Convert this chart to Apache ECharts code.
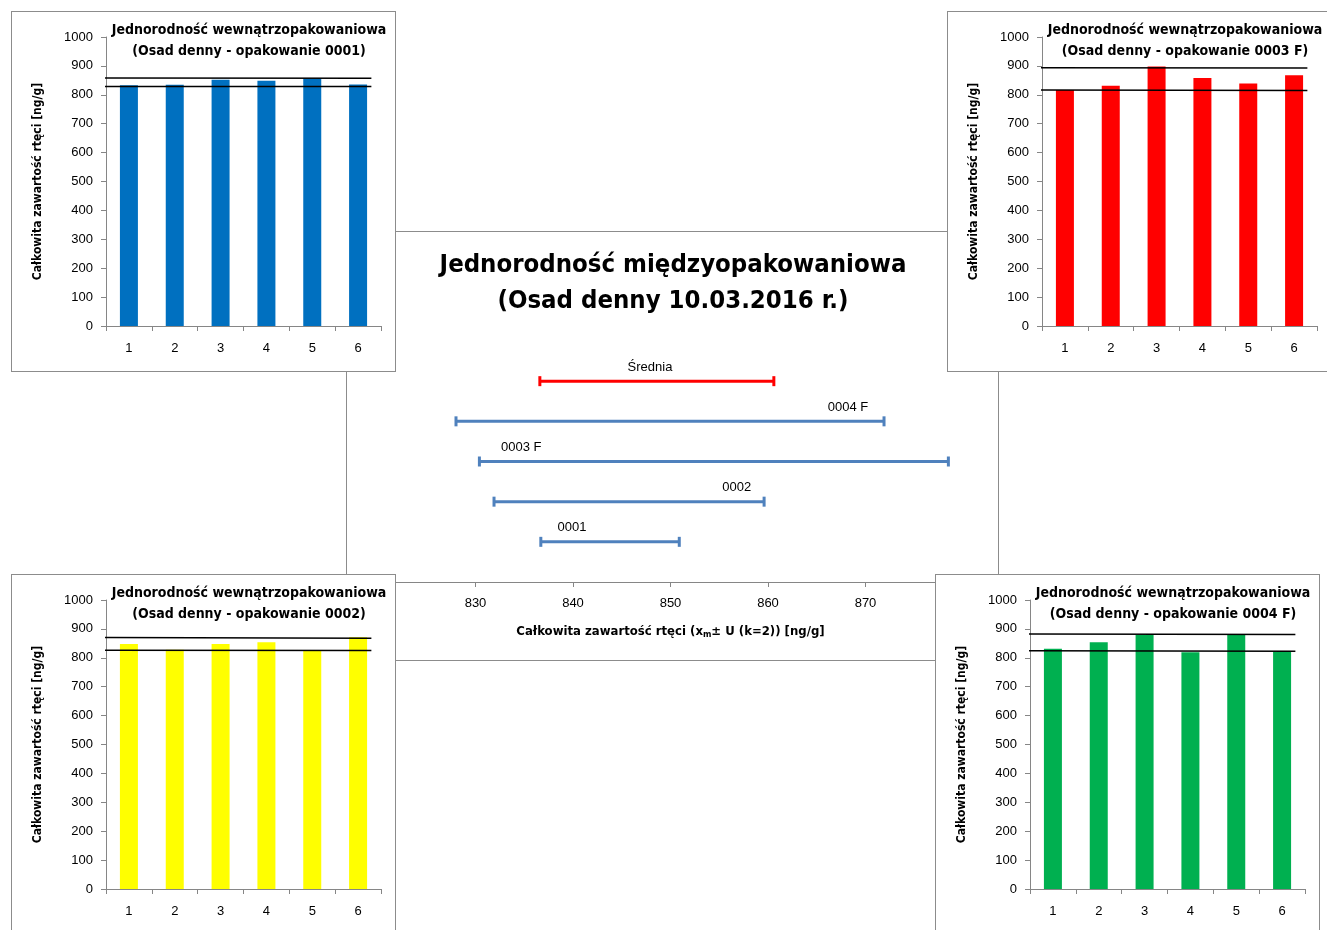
<!DOCTYPE html>
<html>
<head>
<meta charset="utf-8">
<script src="https://cdn.jsdelivr.net/npm/echarts@6/dist/echarts.min.js"></script>
<style>
html,body{margin:0;padding:0;background:#fff;width:1327px;height:930px;overflow:hidden;position:relative;}
.box{position:absolute;background:#fff;border:1px solid #8c8c8c;box-sizing:border-box;}
</style>
</head>
<body>
<div id="center" class="box" style="left:346px;top:231px;width:653px;height:430px;"></div>
<div id="c1" class="box" style="left:11px;top:11px;width:385px;height:361px;"></div>
<div id="c3" class="box" style="left:947px;top:11px;width:385px;height:361px;"></div>
<div id="c2" class="box" style="left:11px;top:574px;width:385px;height:361px;"></div>
<div id="c4" class="box" style="left:935px;top:574px;width:385px;height:361px;"></div>
<script>
// ---- data ----
const samples = ['1', '2', '3', '4', '5', '6'];
const vals0001 = [833, 835, 852, 849, 856, 836];
const vals0002 = [848, 828, 848, 854, 825, 871];
const vals0003F = [817, 831, 898, 858, 839, 868];
const vals0004F = [831, 854, 879, 819, 879, 822];
// limit lines [start, end] for each package
const upper0001 = [858, 857];
const lower0001 = [829, 829];
const upper0002 = [870, 868];
const lower0002 = [826, 825];
const upper0003F = [894, 893];
const lower0003F = [817, 815];
const upper0004F = [882, 881];
const lower0004F = [824, 823];

const intervalNames = ['0001', '0002', '0003 F', '0004 F', 'Średnia'];
const intervalLow = [836.7, 831.9, 830.4, 828.0, 836.6];
const intervalHigh = [850.9, 859.6, 878.5, 871.9, 860.6];
const intervalLabelAt = [839.9, 856.8, 834.7, 868.2, 847.9];

const TXT = 'Liberation Sans, Arial, sans-serif';
const BOLDF = 'DejaVu Sans Condensed, Liberation Sans Narrow, sans-serif';

function small(id, pkg, values, upper, lower, color) {
  const ch = echarts.init(document.getElementById(id), null, {renderer: 'canvas'});
  ch.setOption({
    animation: false,
    graphic: [
      {type: 'text', x: 237, y: 11, style: {text: 'Jednorodność wewnątrzopakowaniowa', align: 'center', fill: '#000',
        font: 'bold 14px ' + BOLDF}},
      {type: 'text', x: 237, y: 32, style: {text: '(Osad denny - opakowanie ' + pkg + ')', align: 'center', fill: '#000',
        font: 'bold 14px ' + BOLDF}}
    ],
    grid: {left: 94, right: 14, top: 25, bottom: 45},
    xAxis: [{
      type: 'category', data: samples,
      axisLine: {lineStyle: {color: '#868686'}},
      axisTick: {show: true, length: 5, lineStyle: {color: '#868686'}},
      axisLabel: {color: '#000', fontSize: 13, fontFamily: TXT, margin: 16}
    }, {
      type: 'value', min: 0, max: 1, show: false
    }],
    yAxis: {
      type: 'value', min: 0, max: 1000, interval: 100,
      name: 'Całkowita zawartość rtęci [ng/g]', nameLocation: 'middle', nameGap: 62, nameRotate: 90,
      nameTextStyle: {color: '#000', fontWeight: 'bold', fontSize: 12, fontFamily: BOLDF},
      axisLine: {show: true, lineStyle: {color: '#868686'}},
      axisTick: {show: true, length: 5, lineStyle: {color: '#868686'}},
      axisLabel: {color: '#000', fontSize: 13, fontFamily: TXT, margin: 13, formatter: function (v) { return String(v); }},
      splitLine: {show: false}
    },
    series: [{
      type: 'bar', data: values, barWidth: 18, xAxisIndex: 0,
      itemStyle: {color: color}
    }, {
      type: 'line', xAxisIndex: 1, data: [[-0.01, upper[0]], [0.965, upper[1]]],
      symbol: 'none', lineStyle: {color: '#000', width: 1.5}, z: 5
    }, {
      type: 'line', xAxisIndex: 1, data: [[-0.01, lower[0]], [0.965, lower[1]]],
      symbol: 'none', lineStyle: {color: '#000', width: 1.5}, z: 5
    }]
  });
}

small('c1', '0001', vals0001, upper0001, lower0001, '#0070C0');
small('c2', '0002', vals0002, upper0002, lower0002, '#FFFF00');
small('c3', '0003 F', vals0003F, upper0003F, lower0003F, '#FF0000');
small('c4', '0004 F', vals0004F, upper0004F, lower0004F, '#00B050');

// ---- center chart ----
const cc = echarts.init(document.getElementById('center'));
const idata = intervalNames.map((n, i) => [intervalLow[i], intervalHigh[i], i + 1, intervalLabelAt[i], n]);
cc.setOption({
  animation: false,
  graphic: [
    {type: 'text', x: 326, y: 20, style: {text: 'Jednorodność międzyopakowaniowa', align: 'center', fill: '#000',
      font: 'bold 25.5px ' + BOLDF}},
    {type: 'text', x: 326, y: 56, style: {text: '(Osad denny 10.03.2016 r.)', align: 'center', fill: '#000',
      font: 'bold 25.5px ' + BOLDF}}
  ],
  grid: {left: 31, right: 35, top: 109, bottom: 78},
  xAxis: {
    type: 'value', min: 820, max: 880, interval: 10,
    axisLine: {show: true, lineStyle: {color: '#868686'}},
    axisTick: {show: true, length: 5, lineStyle: {color: '#868686'}},
    axisLabel: {color: '#000', fontSize: 13, fontFamily: TXT, margin: 15},
    splitLine: {show: false},
    name: 'Całkowita zawartość rtęci (x{sub|m}± U (k=2)) [ng/g]',
    nameLocation: 'middle', nameGap: 42,
    nameTextStyle: {color: '#000', fontWeight: 'bold', fontSize: 13, fontFamily: BOLDF,
      rich: {sub: {fontSize: 9, fontWeight: 'bold', verticalAlign: 'bottom', padding: [6, 0, 0, 0], fontFamily: BOLDF}}}
  },
  yAxis: {type: 'value', min: 0, max: 6, show: false},
  series: [{
    type: 'custom',
    data: idata,
    renderItem: function (params, api) {
      const lo = api.coord([api.value(0), api.value(2)]);
      const hi = api.coord([api.value(1), api.value(2)]);
      const lab = api.coord([api.value(3), api.value(2)]);
      const isMean = params.dataIndex === intervalNames.length - 1;
      const col = isMean ? '#FF0000' : '#4F81BD';
      const st = {stroke: col, lineWidth: 3};
      return {type: 'group', children: [
        {type: 'line', shape: {x1: lo[0], y1: lo[1], x2: hi[0], y2: hi[1]}, style: st},
        {type: 'line', shape: {x1: lo[0], y1: lo[1] - 5, x2: lo[0], y2: lo[1] + 5}, style: st},
        {type: 'line', shape: {x1: hi[0], y1: hi[1] - 5, x2: hi[0], y2: hi[1] + 5}, style: st},
        {type: 'text', x: lab[0], y: lab[1] - 14, style: {text: intervalNames[params.dataIndex], align: 'center',
          verticalAlign: 'middle', fill: '#000', font: '13px ' + TXT}}
      ]};
    }
  }]
});
</script>
</body>
</html>
